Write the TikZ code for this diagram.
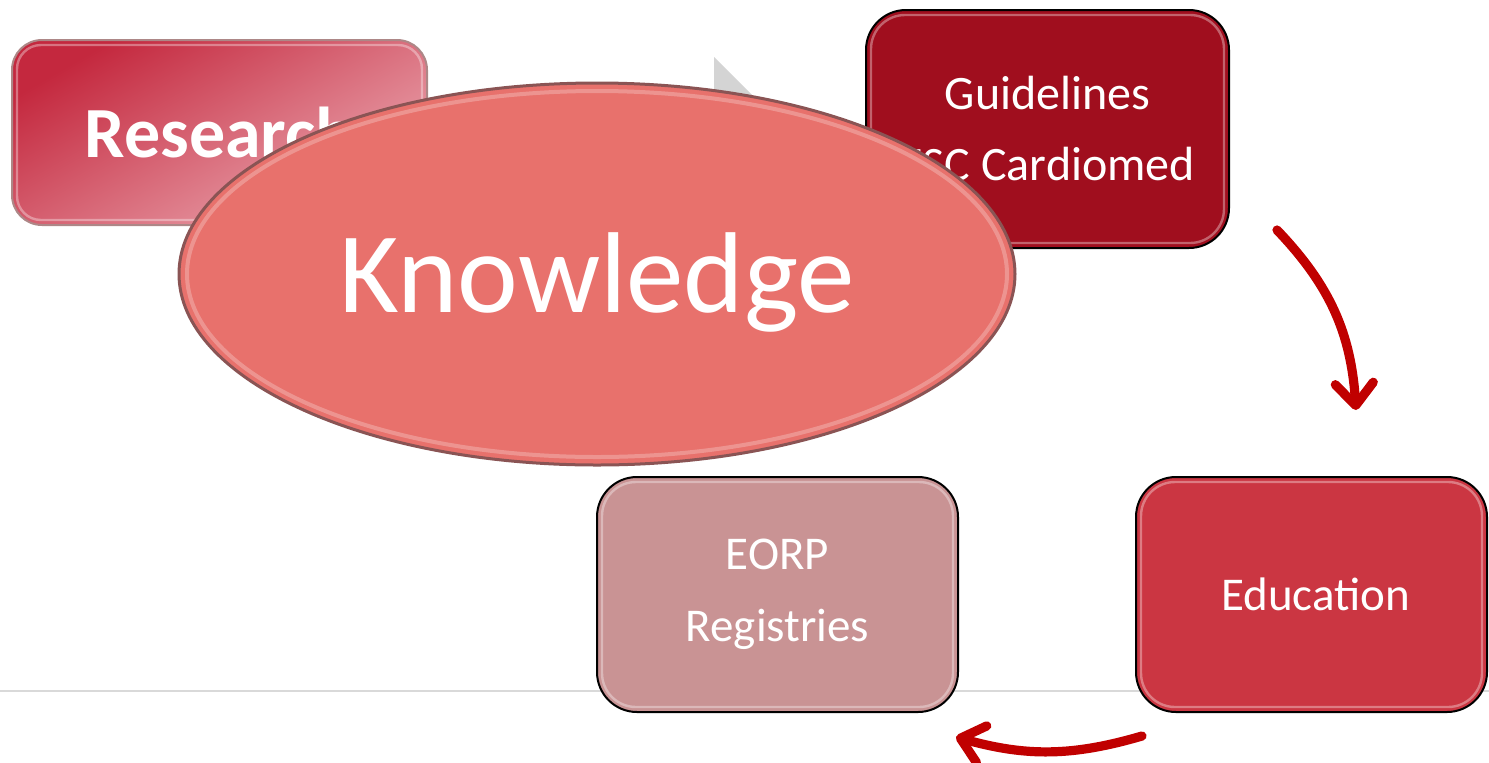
\documentclass[tikz,border=0pt]{standalone}
\usepackage{fontspec}
\setmainfont{Carlito}
\usetikzlibrary{arrows.meta,shapes.geometric}
\definecolor{guidered}{HTML}{A00E1E}
\definecolor{edured}{HTML}{CB3642}
\definecolor{eorpred}{HTML}{C99394}
\definecolor{knowred}{HTML}{E8716C}
\definecolor{arrowred}{HTML}{C00000}
\definecolor{resdark}{HTML}{C4283E}
\definecolor{reslight}{HTML}{EBA7B0}
\definecolor{rimdark}{HTML}{8A5454}
\definecolor{rulegray}{HTML}{D9D9D9}
\definecolor{trigray}{HTML}{D4D4D4}
\tikzset{
  boxnode/.style={rectangle, rounded corners=20pt, draw=black, line width=1pt,
    text=white, align=center, inner sep=0pt},
  gloss/.style={draw=white, draw opacity=0.35, line width=1.2pt, rounded corners=17pt},
  cyclearrow/.style={draw=arrowred, line width=4.6pt, line cap=round,
    -{Straight Barb[length=11pt,width=19pt,line cap=round,round]}},
}
\begin{document}
\begin{tikzpicture}[x=0.5pt,y=-0.5pt]
\useasboundingbox (0,0) rectangle (1489,762);
% rule line
\draw[rulegray, line width=1pt] (0,691) -- (1489,691);
% grey triangle behind the ellipse
\fill[trigray] (714,57) -- (792,135) -- (714,135) -- cycle;
% Research
\node[rectangle, rounded corners=15pt, minimum width=207.5pt, minimum height=92.5pt,
  draw=rimdark!70, line width=1pt, shade, top color=resdark, bottom color=reslight,
  shading angle=30, text=white, font=\bfseries\fontsize{36pt}{40pt}\selectfont]
  (research) at (219.5,132.5) {Research};
\draw[white, opacity=0.35, line width=1.2pt, rounded corners=12pt]
  ([xshift=3pt,yshift=-3pt]research.north west) rectangle ([xshift=-3pt,yshift=3pt]research.south east);
% Guidelines
\node[boxnode, fill=guidered, minimum width=181.5pt, minimum height=119pt,
  font=\fontsize{24pt}{35.5pt}\selectfont]
  (guide) at (1047.5,129) {Guidelines\\ESC Cardiomed};
\draw[gloss] ([xshift=3pt,yshift=-3pt]guide.north west) rectangle ([xshift=-3pt,yshift=3pt]guide.south east);
% Knowledge ellipse
\node[ellipse, minimum width=418pt, minimum height=191pt, fill=knowred,
  draw=rimdark, line width=1.5pt, inner sep=0pt] (know) at (597,274) {};
\draw[white, opacity=0.25, line width=2pt] (597,274) ellipse [x radius=410, y radius=183];
\node[text=white, font=\fontsize{57.5pt}{60pt}\selectfont, inner sep=0pt]
  (knowtext) at (597,282) {Knowledge};
% EORP
\node[boxnode, fill=eorpred, minimum width=180.5pt, minimum height=117.5pt,
  font=\fontsize{23.5pt}{36pt}\selectfont]
  (eorp) at (777.5,594.5) {EORP\\Registries};
\draw[gloss] ([xshift=3pt,yshift=-3pt]eorp.north west) rectangle ([xshift=-3pt,yshift=3pt]eorp.south east);
% Education
\node[boxnode, fill=edured, minimum width=175.5pt, minimum height=117.5pt,
  font=\fontsize{23.5pt}{36pt}\selectfont]
  (edu) at (1311.5,594.5) {\hspace*{4pt}Education};
\draw[gloss] ([xshift=3pt,yshift=-3pt]edu.north west) rectangle ([xshift=-3pt,yshift=3pt]edu.south east);
% arrows
\coordinate (a1s) at (1277,230);
\coordinate (a1e) at (1356,410);
\coordinate (a2s) at (1142,736);
\coordinate (a2e) at (956,737);
\draw[cyclearrow] (a1s) to[bend left=20] (a1e);
\draw[cyclearrow] (a2s) to[bend left=16] (a2e);
\end{tikzpicture}
\end{document}
